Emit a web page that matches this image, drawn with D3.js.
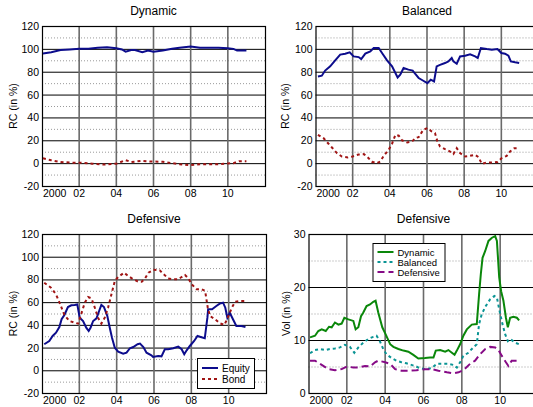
<!DOCTYPE html>
<html>
<head>
<meta charset="utf-8">
<script src="https://cdn.jsdelivr.net/npm/d3@7/dist/d3.min.js"></script>
<style>
  body { margin: 0; background: #fff; }
  svg { display: block; }
  text { font-family: "Liberation Sans", Arial, sans-serif; fill: #000; }
</style>
</head>
<body>
<svg id="chart" width="533" height="407"></svg>
<script>
// risk contributions / volatilities, [year, value]
var dynamicEquity = [[2000.05,96],[2000.5,97],[2001,99],[2001.5,99.5],[2002,100],[2002.5,100],[2003,101],
  [2003.5,101.5],[2004,100.5],[2004.3,99.5],[2004.5,97.5],[2004.8,99],[2005,99],[2005.4,97],[2005.7,98.5],
  [2006,97.5],[2006.5,98.5],[2007,100],[2007.4,101],[2008,102],[2008.5,101],[2009,101],[2009.5,101],
  [2010,100.5],[2010.3,100],[2010.5,98.5],[2011,98.5]];
var dynamicBond = [[2000.05,4.2],[2000.5,2.5],[2001,1],[2001.5,0.5],[2002.1,0.3],[2002.7,-0.5],[2003.3,-1.2],
  [2004,-0.5],[2004.5,2.6],[2004.8,1],[2005.4,2],[2005.8,1.5],[2006.5,1.2],[2007,0],[2007.4,-0.9],
  [2008,-1.7],[2008.5,-1],[2009,-1],[2009.5,-1],[2010,-0.3],[2010.3,0],[2010.6,1.7],[2011,1.7]];

var balancedEquity = [[2000.13,75.9],[2000.34,76.5],[2000.52,81],[2000.79,84.7],[2001.06,90],[2001.33,95],
  [2001.6,95.8],[2001.84,97],[2002.05,93.4],[2002.32,92.8],[2002.46,91],[2002.68,95.8],[2002.95,97.8],
  [2003.13,100.7],[2003.4,100.7],[2003.58,96.4],[2003.85,90],[2004.12,84.7],[2004.42,75],[2004.56,77.4],
  [2004.74,83.2],[2005,81.8],[2005.23,81],[2005.37,78],[2005.55,74.5],[2005.8,72.1],[2006.02,70],
  [2006.2,73],[2006.38,71.5],[2006.52,84.7],[2006.7,86],[2006.97,87.6],[2007.15,89],[2007.33,92],
  [2007.42,89],[2007.6,87],[2007.78,93.4],[2008.05,94],[2008.32,95.2],[2008.59,93.4],[2008.73,92],
  [2008.9,100.7],[2009.22,99.8],[2009.49,99.3],[2009.79,99.8],[2010,96.4],[2010.2,95.8],[2010.38,94],
  [2010.51,89],[2010.74,88.2],[2010.96,87.6]];
var balancedBond = [[2000.13,24.8],[2000.43,21.9],[2000.7,17],[2000.92,13],[2001.15,8.8],[2001.42,5.8],
  [2001.74,5],[2002,5.8],[2002.32,7.6],[2002.6,7.9],[2002.77,5.8],[2003.04,1.2],[2003.31,0],[2003.49,1.5],
  [2003.67,6.4],[2003.94,11.7],[2004.12,17],[2004.3,24.8],[2004.48,24],[2004.66,19.9],[2004.93,18.1],
  [2005.2,19],[2005.37,21.9],[2005.55,22.8],[2005.8,29.2],[2006.02,30.7],[2006.25,27.7],[2006.43,26.3],
  [2006.56,19],[2006.7,14.6],[2006.97,12.3],[2007.24,10.2],[2007.42,7.9],[2007.6,13.1],[2007.78,8.8],
  [2008.05,5.8],[2008.32,6.4],[2008.59,7.3],[2008.77,5.3],[2008.95,-0.6],[2009.22,0.6],[2009.49,0.6],
  [2009.79,0.9],[2010.02,4.4],[2010.29,6.4],[2010.47,10.2],[2010.7,13.1],[2010.96,13.1]];

var defensiveEquity = [[2000.12,22.9],[2000.39,25.8],[2000.57,30.2],[2000.75,33.1],[2000.93,38.1],[2001.05,44.9],
  [2001.2,48.7],[2001.39,55.7],[2001.57,57.2],[2001.75,57.5],[2001.89,58],[2002.02,46.3],[2002.2,43.4],
  [2002.37,37.5],[2002.5,34.6],[2002.6,37.5],[2002.74,43.4],[2002.92,45.7],[2003.06,52.2],[2003.18,57.5],
  [2003.32,55.7],[2003.5,47.8],[2003.63,37.5],[2003.75,28.7],[2003.9,19.9],[2004.08,16.4],[2004.35,14.7],
  [2004.53,15.5],[2004.71,19.4],[2004.89,20.5],[2005.12,22.9],[2005.25,23.5],[2005.43,20.5],[2005.6,15.5],
  [2005.86,13.2],[2005.95,11.7],[2006.22,12.6],[2006.4,12.3],[2006.58,18.5],[2006.76,18.5],[2007.03,19.4],
  [2007.3,20.8],[2007.48,18.5],[2007.62,14.1],[2007.75,17.6],[2007.92,21.4],[2008.15,25.8],[2008.33,30.2],
  [2008.5,29.3],[2008.72,28.2],[2008.86,46.3],[2008.9,53.7],[2009.11,53.7],[2009.34,56.6],[2009.52,58.7],
  [2009.7,59.5],[2009.82,55.1],[2009.93,46.3],[2010.06,50.7],[2010.23,44.9],[2010.41,39],[2010.68,39],
  [2010.9,38.1]];
var defensiveBond = [[2000.12,77.1],[2000.48,72.7],[2000.75,66.9],[2000.98,58],[2001.2,48.7],[2001.47,43.4],
  [2001.75,41.9],[2001.93,41.1],[2002.07,47.8],[2002.29,59.5],[2002.47,64.5],[2002.65,63.3],[2002.83,55.1],
  [2003,46.3],[2003.18,41.1],[2003.36,46.3],[2003.54,55.1],[2003.72,66.9],[2003.9,78.6],[2004.08,82.1],
  [2004.4,85.9],[2004.62,83],[2004.89,80.1],[2005.16,78],[2005.34,78],[2005.52,80.9],[2005.7,85.9],
  [2005.97,88.5],[2006.31,88],[2006.49,85],[2006.76,80.9],[2007.03,80.1],[2007.3,80.1],[2007.48,82.1],
  [2007.66,83.9],[2007.84,80.9],[2008.02,75.7],[2008.29,71.3],[2008.56,71.3],[2008.74,69.8],[2008.88,55.1],
  [2009,47.8],[2009.27,44.9],[2009.54,41.3],[2009.77,39.9],[2009.95,46.3],[2010.17,55.1],[2010.35,60.4],
  [2010.62,61],[2010.89,61]];

var volDynamic = [[2000.08,10.5],[2000.34,10.8],[2000.51,11.7],[2000.69,12],[2000.9,11.7],[2001.07,12.5],
  [2001.21,12.4],[2001.38,13.3],[2001.56,12.9],[2001.73,13.1],[2001.87,14.2],[2002.08,13.9],[2002.34,13.6],
  [2002.46,12],[2002.6,12.4],[2002.74,14.5],[2002.86,15.2],[2003.03,16.4],[2003.21,16.7],[2003.38,17.2],
  [2003.5,17.4],[2003.64,15.2],[2003.85,12.4],[2004.02,11.1],[2004.26,9.2],[2004.43,8.7],[2004.69,8.3],
  [2004.95,8],[2005.21,7.8],[2005.47,7.2],[2005.73,6.5],[2006.08,6.6],[2006.34,6.7],[2006.52,6.7],
  [2006.64,8],[2006.87,8.1],[2007.13,7.8],[2007.3,8.1],[2007.48,7.6],[2007.62,7.2],[2007.74,8],
  [2007.91,9.2],[2008.08,10.8],[2008.26,12],[2008.52,12.9],[2008.78,13],[2008.9,18.6],[2008.99,22.4],
  [2009.08,25.5],[2009.22,26.8],[2009.39,28.7],[2009.57,29.3],[2009.74,29.6],[2009.83,28.7],[2009.95,21.8],
  [2010.05,19.2],[2010.17,17.4],[2010.3,14.2],[2010.4,12.4],[2010.52,14.2],[2010.69,14.4],[2010.87,14.2],
  [2010.99,13.7]];
var volBalanced = [[2000.08,7.5],[2000.34,8.1],[2000.6,8.3],[2000.86,8.1],[2001.12,8.3],[2001.38,8.4],
  [2001.64,8.6],[2001.9,9.1],[2002.16,8.7],[2002.39,7.6],[2002.6,8.6],[2002.86,9.5],[2003.12,10.2],
  [2003.38,10.6],[2003.55,10.8],[2003.72,9.8],[2003.9,8.3],[2004.07,7.3],[2004.33,6.6],[2004.59,6.1],
  [2004.85,5.8],[2005.11,5.6],[2005.37,5.3],[2005.63,5],[2005.73,4.8],[2006.08,4.5],[2006.43,4.7],
  [2006.69,5.5],[2007.04,5.5],[2007.3,5.5],[2007.56,5.3],[2007.74,4.8],[2007.91,5.8],[2008.08,7],
  [2008.34,7.6],[2008.6,8.6],[2008.78,9.2],[2008.9,13],[2009.04,14.9],[2009.25,16.4],[2009.48,17.7],
  [2009.7,18.3],[2009.83,18],[2009.95,15.8],[2010.12,13],[2010.26,11.1],[2010.4,9.8],[2010.52,10.2],
  [2010.78,9.5],[2010.99,9.2]];
var volDefensive = [[2000.08,6.1],[2000.34,6.1],[2000.69,5.3],[2001.03,4.5],[2001.38,4.3],[2001.73,4.5],
  [2002,5],[2002.34,4.8],[2002.6,4.8],[2002.95,5.1],[2003.21,5],[2003.47,5.8],[2003.64,6.1],[2004,5.8],
  [2004.26,5.5],[2004.52,4.5],[2004.85,4.2],[2005.21,4.2],[2005.63,4.3],[2006.08,4.5],[2006.43,4.5],
  [2006.78,4.2],[2007.22,3.9],[2007.56,3.7],[2007.83,3.9],[2008.08,4.3],[2008.43,5.5],[2008.69,6.1],
  [2008.95,7.3],[2009.22,8.3],[2009.48,8.7],[2009.74,8.6],[2009.91,8.1],[2010.09,7],[2010.3,5.8],
  [2010.43,5.1],[2010.6,6.1],[2010.87,6.1]];

var xTickYears = [2000, 2002, 2004, 2006, 2008, 2010];
var xTickLabels = ["2000", "02", "04", "06", "08", "10"];
var rcTicks = [-20, 0, 20, 40, 60, 80, 100, 120];
var volTicks = [0, 10, 20, 30];

var svg = d3.select("#chart");

function drawPanel(p) {
  var g = svg.append("g").attr("transform", "translate(" + p.left + "," + p.top + ")");
  var x = d3.scaleLinear().domain([2000, 2012]).range([0, p.width]);
  var y = d3.scaleLinear().domain(p.yDomain).range([p.height, 0]);

  // minor dotted lines between majors
  var minor = p.yTicks.slice(0, -1).map(function(t, i) { return (t + p.yTicks[i + 1]) / 2; });
  g.selectAll(".minor").data(minor).enter().append("line")
    .attr("x1", 0).attr("x2", p.width)
    .attr("y1", function(d) { return y(d) + 0.5; }).attr("y2", function(d) { return y(d) + 0.5; })
    .attr("stroke", "#9a9a9a").attr("stroke-dasharray", "1,2");
  g.selectAll(".major").data(p.yTicks.slice(1, -1)).enter().append("line")
    .attr("x1", 0).attr("x2", p.width)
    .attr("y1", function(d) { return y(d) + 0.5; }).attr("y2", function(d) { return y(d) + 0.5; })
    .attr("stroke", "#000");
  g.selectAll(".vgrid").data(xTickYears.slice(1)).enter().append("line")
    .attr("x1", function(d) { return x(d); }).attr("x2", function(d) { return x(d); })
    .attr("y1", 0).attr("y2", p.height)
    .attr("stroke", "#6a6a6a").attr("stroke-width", 1.6);

  g.append("rect").attr("x", 0.5).attr("y", 0.5)
    .attr("width", p.width).attr("height", p.height)
    .attr("fill", "none").attr("stroke", "#000").attr("stroke-width", 1.2);

  var line = d3.line().x(function(d) { return x(d[0]); }).y(function(d) { return y(d[1]); });
  p.series.forEach(function(s) {
    g.append("path").datum(s.data).attr("d", line)
      .attr("fill", "none").attr("stroke", s.color).attr("stroke-width", 2)
      .attr("stroke-dasharray", s.dash || null);
  });

  // y tick labels
  g.selectAll(".ylab").data(p.yTicks).enter().append("text")
    .attr("x", -3).attr("y", function(d) { return y(d) + 4; })
    .attr("text-anchor", "end").style("font-size", "10.5px")
    .text(function(d) { return d; });
  // x tick labels
  g.selectAll(".xlab").data(xTickYears).enter().append("text")
    .attr("x", function(d, i) { return i === 0 ? x(d) + 1 : x(d); })
    .attr("y", p.height + 11)
    .attr("text-anchor", function(d, i) { return i === 0 ? "start" : "middle"; })
    .style("font-size", "10.5px")
    .text(function(d, i) { return xTickLabels[i]; });

  g.append("text").attr("x", p.width / 2).attr("y", -11)
    .attr("text-anchor", "middle").style("font-size", "12px").text(p.title);
  g.append("text")
    .attr("transform", "translate(" + (p.yLabelX - p.left) + "," + (p.height / 2) + ") rotate(-90)")
    .attr("text-anchor", "middle").style("font-size", "10.5px").attr("dy", "0.35em")
    .text(p.yLabel);

  if (p.legend) {
    var L = p.legend;
    var lg = g.append("g").attr("transform", "translate(" + L.x + "," + L.y + ")");
    lg.append("rect").attr("x", 0.5).attr("y", 0.5).attr("width", L.w).attr("height", L.h)
      .attr("fill", "#fff").attr("stroke", "#000");
    p.series.forEach(function(s, i) {
      var yy = L.pad + i * L.step;
      lg.append("line").attr("x1", 5).attr("x2", 21).attr("y1", yy).attr("y2", yy)
        .attr("stroke", s.color).attr("stroke-width", 2).attr("stroke-dasharray", s.dash || null);
      lg.append("text").attr("x", 25).attr("y", yy + 3.5).style("font-size", L.font).text(s.name);
    });
  }
}

var navy = "#0c0c8c", bondRed = "#a01414";

drawPanel({ left: 42, top: 26, width: 223, height: 160, yDomain: [-20, 120], yTicks: rcTicks,
  title: "Dynamic", yLabel: "RC (in %)", yLabelX: 13,
  series: [{ name: "Equity", data: dynamicEquity, color: navy },
           { name: "Bond", data: dynamicBond, color: bondRed, dash: "3,3" }] });

drawPanel({ left: 315.5, top: 26, width: 223, height: 160, yDomain: [-20, 120], yTicks: rcTicks,
  title: "Balanced", yLabel: "RC (in %)", yLabelX: 285,
  series: [{ name: "Equity", data: balancedEquity, color: navy },
           { name: "Bond", data: balancedBond, color: bondRed, dash: "3,3" }] });

drawPanel({ left: 42, top: 234, width: 224, height: 159, yDomain: [-20, 120], yTicks: rcTicks,
  title: "Defensive", yLabel: "RC (in %)", yLabelX: 13,
  legend: { x: 155, y: 124, w: 57, h: 30, pad: 10, step: 11, font: "10px" },
  series: [{ name: "Equity", data: defensiveEquity, color: navy },
           { name: "Bond", data: defensiveBond, color: bondRed, dash: "3,3" }] });

drawPanel({ left: 308.5, top: 234, width: 230, height: 159, yDomain: [0, 30], yTicks: volTicks,
  title: "Defensive", yLabel: "Vol (in %)", yLabelX: 286,
  legend: { x: 64, y: 9, w: 72, h: 38, pad: 9, step: 10, font: "9.5px" },
  series: [{ name: "Dynamic", data: volDynamic, color: "#0a870a" },
           { name: "Balanced", data: volBalanced, color: "#0a9494", dash: "3,3" },
           { name: "Defensive", data: volDefensive, color: "#860a86", dash: "7,4" }] });
</script>
</body>
</html>
